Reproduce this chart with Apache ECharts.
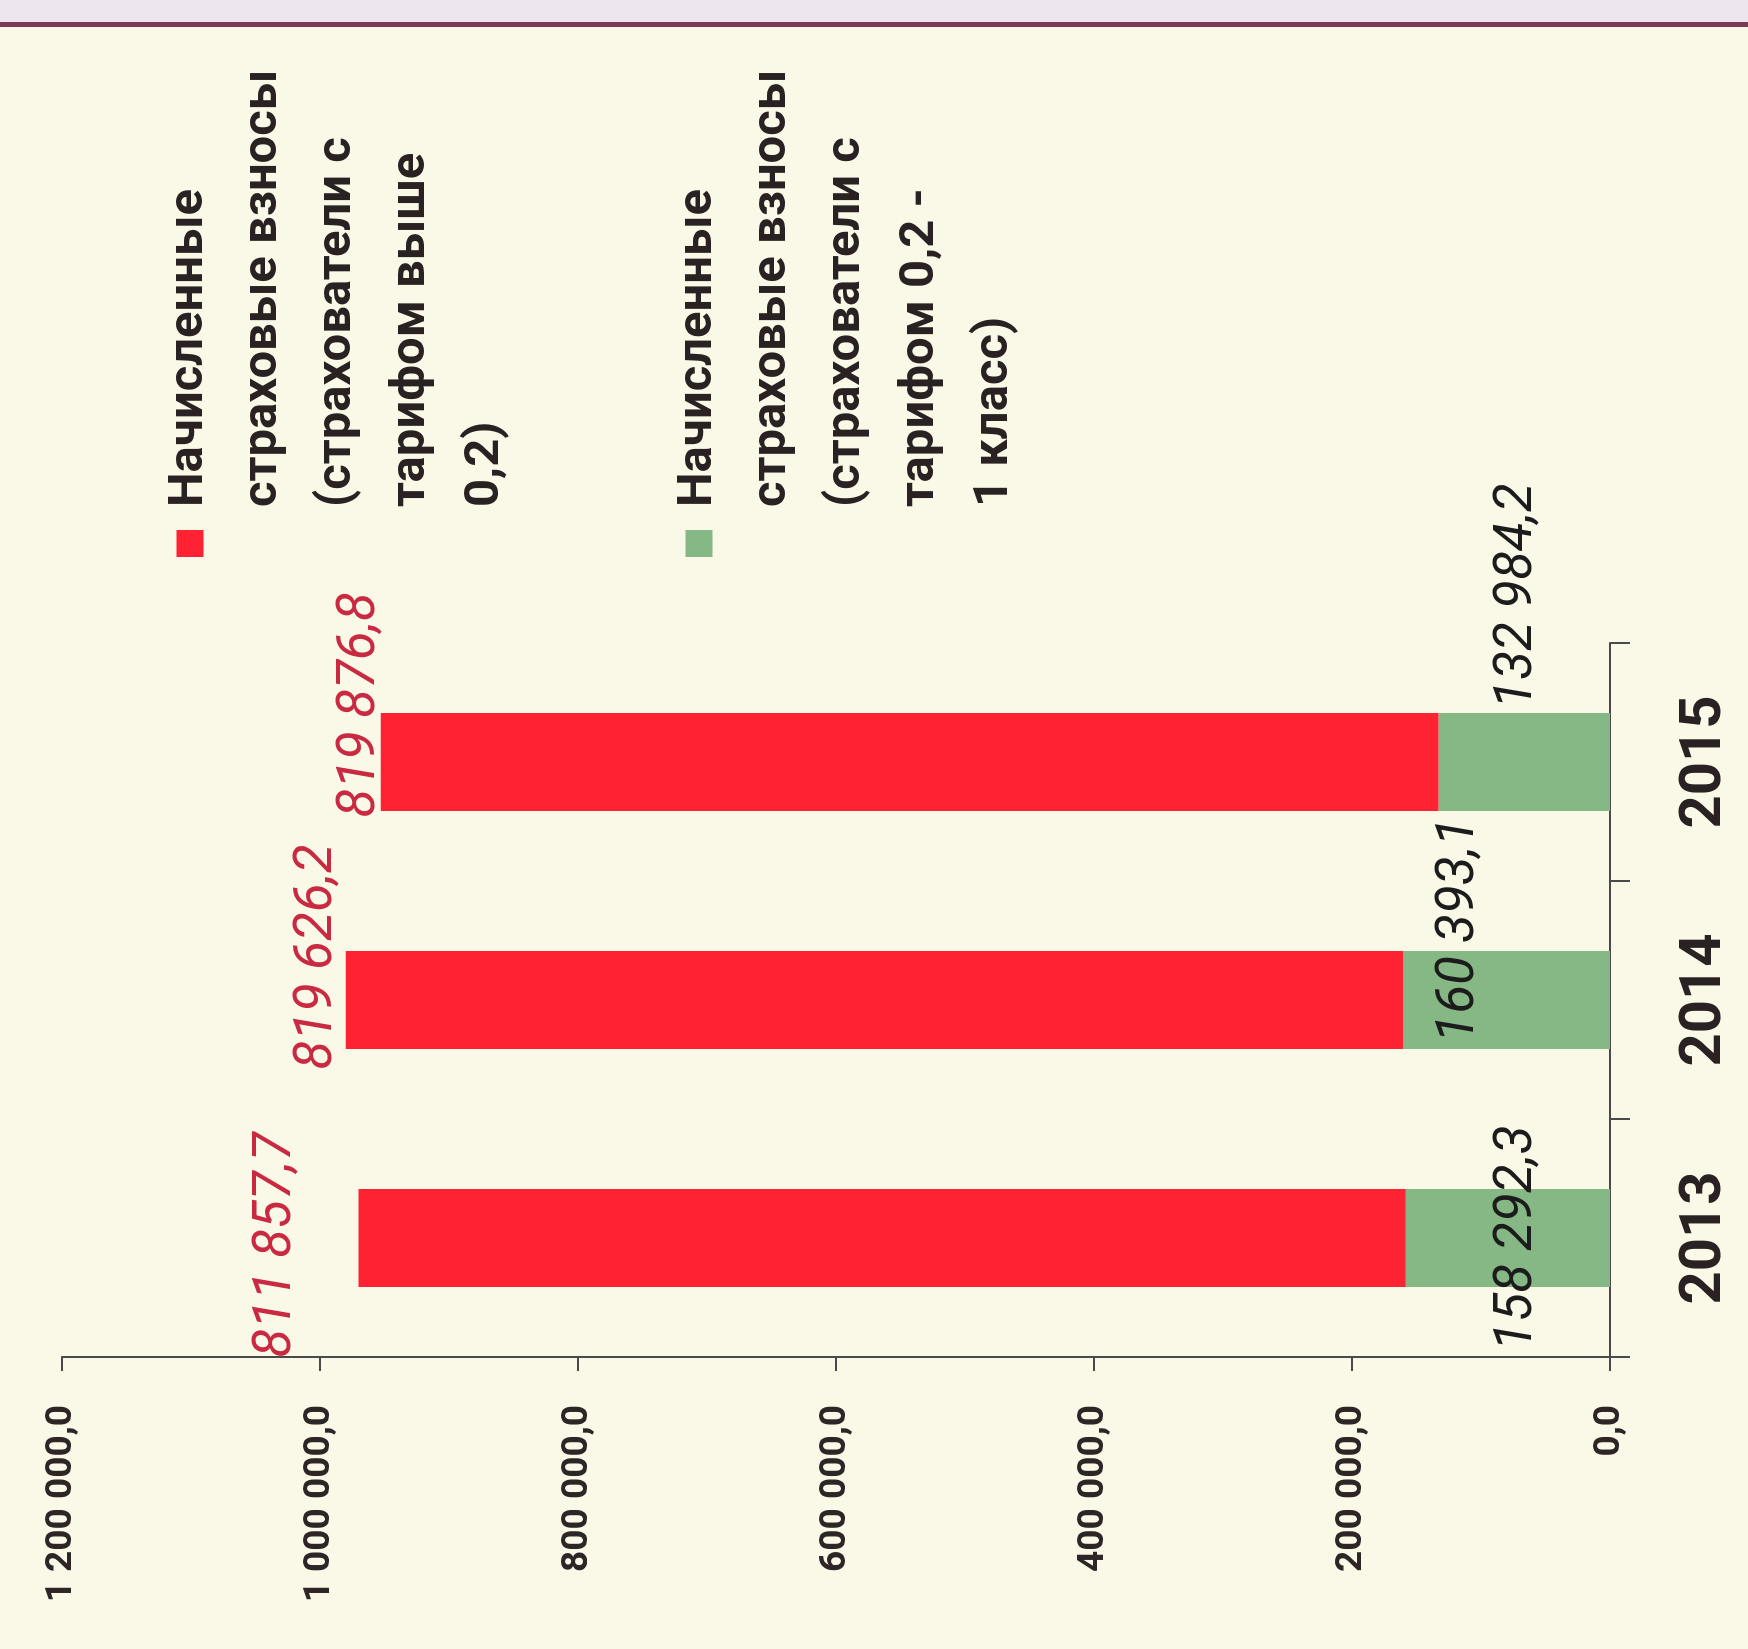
<!DOCTYPE html>
<html>
<head>
<meta charset="utf-8">
<script src="https://cdn.jsdelivr.net/npm/echarts@6/dist/echarts.min.js"></script>
<style>
  html, body { margin: 0; padding: 0; width: 1748px; height: 1649px; overflow: hidden; background: #faf8e7; }
  #topband { position: absolute; left: 0; top: 0; width: 1748px; height: 22px; background: #eee6ee; border-bottom: 5px solid #7a3a55; }
  #chart { position: absolute; left: 0; top: 0; width: 1649px; height: 1748px;
           transform-origin: 0 0; transform: translate(0, 1649px) rotate(-90deg); }
</style>
</head>
<body>
<div id="topband"></div>
<div id="chart"></div>
<script>
// ---- data ----
const categories = ['2013', '2014', '2015'];
const highTariffValues = [811857.7, 819626.2, 819876.8];   // red
const lowTariffValues  = [158292.3, 160393.1, 132984.2];   // green
const valueAxisMin = 0;
const valueAxisMax = 1200000;
const valueAxisInterval = 200000;
const highTariffName = 'Начисленные\nстраховые взносы\n(страхователи с\nтарифом выше\n0,2)';
const lowTariffName  = 'Начисленные\nстраховые взносы\n(страхователи с\nтарифом 0,2 -\n1 класс)';

// ---- helpers ----
function fmt(v) {
  const s = Number(v).toFixed(1).split('.');
  return s[0].replace(/\B(?=(\d{3})+(?!\d))/g, ' ') + ',' + s[1];
}
const FONT = "Roboto, 'Noto Sans', sans-serif";

// manual label displacements (as placed in the original figure)
const redLabelOffsets   = [[-7, -605], [43, -557], [57, -549]];
const greenLabelOffsets = [[0, 10], [70, -47], [166, -6]];

const redData = highTariffValues.map((v, i) => ({ value: v, label: { offset: redLabelOffsets[i] } }));
const greenData = lowTariffValues.map((v, i) => ({ value: v, label: { offset: greenLabelOffsets[i] } }));

const chart = echarts.init(document.getElementById('chart'), null, { renderer: 'canvas' });
chart.setOption({
  backgroundColor: 'transparent',
  animation: false,
  grid: { left: 292, right: 643, top: 62, bottom: 138, containLabel: false },
  legend: {
    orient: 'vertical',
    left: 1092, top: 153,
    padding: 0,
    itemWidth: 27, itemHeight: 370, itemGap: 139,
    icon: 'path://M0,0h0.1v0.1h-0.1z M0,23.5h27v27h-27z M0,369.9h0.1v0.1h-0.1z',
    data: [highTariffName, lowTariffName],
    textStyle: { fontFamily: FONT, fontWeight: 'bold', fontSize: 49, lineHeight: 74, color: '#2a2222', padding: [0, 0, 0, 18] }
  },
  xAxis: {
    type: 'category',
    data: categories,
    axisLine: { show: true, lineStyle: { color: '#4a4a4a', width: 2 } },
    axisTick: { show: true, alignWithLabel: false, length: 20, lineStyle: { color: '#4a4a4a', width: 2 } },
    axisLabel: { margin: 66, fontFamily: FONT, fontWeight: 'bold', fontSize: 58, color: '#2a2222' }
  },
  yAxis: {
    type: 'value',
    min: valueAxisMin, max: valueAxisMax, interval: valueAxisInterval,
    splitLine: { show: false },
    axisLine: { show: true, lineStyle: { color: '#4a4a4a', width: 2 } },
    axisTick: { show: true, length: 14, lineStyle: { color: '#4a4a4a', width: 2 } },
    axisLabel: { margin: 48, fontFamily: FONT, fontWeight: 'bold', fontSize: 37, color: '#2e2626', formatter: v => fmt(v) }
  },
  series: [
    {
      name: lowTariffName, type: 'bar', stack: 'total', barWidth: 98,
      itemStyle: { color: '#85b885' },
      label: { show: true, position: 'inside', formatter: p => fmt(p.value),
               fontFamily: FONT, fontStyle: 'italic', fontSize: 53, color: '#1c1c1c' },
      data: greenData
    },
    {
      name: highTariffName, type: 'bar', stack: 'total', barWidth: 98,
      itemStyle: { color: '#ff2232' },
      label: { show: true, position: 'inside', formatter: p => fmt(p.value),
               fontFamily: FONT, fontStyle: 'italic', fontSize: 53, color: '#c92a42' },
      data: redData
    }
  ]
});
</script>
</body>
</html>
